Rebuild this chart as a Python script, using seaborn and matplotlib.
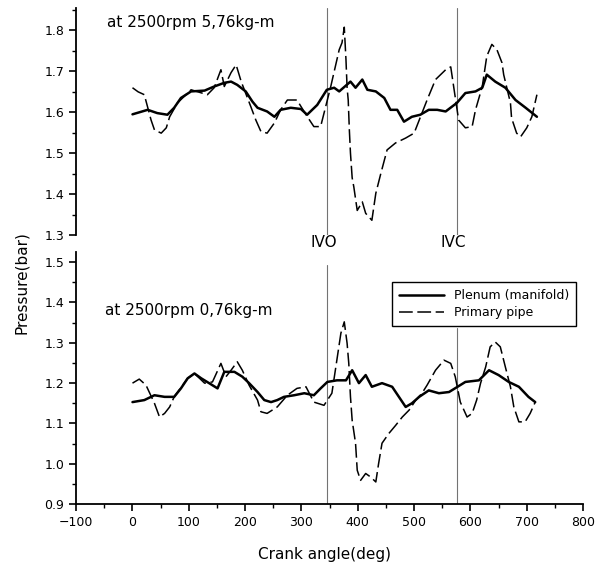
import matplotlib
matplotlib.use("Agg")
import matplotlib.pyplot as plt
import matplotlib.transforms as mtransforms
from matplotlib.ticker import MultipleLocator, FormatStrFormatter
import seaborn as sns

# --- data (crank angle in deg, pressure in bar) ---
# top panel: 2500 rpm, 5.76 kg-m
top_plenum_angle = [0, 27, 44, 62, 74, 86, 104, 128, 145, 163, 175, 186, 201, 213, 222,
                    239, 252, 263, 281, 299, 310, 328, 345, 358, 367, 387, 396, 408, 417,
                    432, 447, 458, 470, 482, 496, 511, 526, 541, 556, 576, 591, 609, 621,
                    629, 644, 662, 680, 698, 718]
top_plenum_p = [1.595, 1.606, 1.598, 1.594, 1.611, 1.635, 1.651, 1.653, 1.663, 1.672, 1.675,
                1.667, 1.651, 1.626, 1.611, 1.602, 1.589, 1.606, 1.611, 1.608, 1.594, 1.618,
                1.655, 1.660, 1.651, 1.675, 1.660, 1.680, 1.655, 1.651, 1.635, 1.606, 1.606,
                1.577, 1.589, 1.594, 1.606, 1.606, 1.602, 1.623, 1.647, 1.651, 1.660, 1.692,
                1.675, 1.660, 1.630, 1.611, 1.589]

top_pipe_angle = [0, 10, 21, 33, 39, 51, 60, 66, 80, 104, 133, 145, 157, 163, 175, 184, 193,
                  210, 219, 228, 239, 252, 263, 275, 292, 310, 322, 334, 343, 352, 367, 372,
                  376, 379, 381, 383, 385, 387, 390, 393, 399, 408, 414, 425, 432, 441, 452,
                  467, 485, 500, 523, 538, 556, 565, 579, 591, 603, 609, 621, 629, 638, 647,
                  656, 659, 671, 673, 682, 689, 700, 709, 718]
top_pipe_p = [1.660, 1.650, 1.643, 1.581, 1.557, 1.549, 1.562, 1.589, 1.623, 1.655, 1.643,
              1.660, 1.704, 1.663, 1.697, 1.716, 1.675, 1.614, 1.581, 1.553, 1.549, 1.574,
              1.606, 1.630, 1.630, 1.590, 1.565, 1.565, 1.614, 1.663, 1.753, 1.770, 1.808,
              1.729, 1.660, 1.630, 1.557, 1.500, 1.440, 1.417, 1.360, 1.381, 1.353, 1.336,
              1.402, 1.451, 1.508, 1.525, 1.537, 1.549, 1.630, 1.680, 1.704, 1.711, 1.581,
              1.562, 1.565, 1.606, 1.663, 1.737, 1.766, 1.753, 1.721, 1.692, 1.623, 1.586,
              1.549, 1.540, 1.562, 1.589, 1.643]

# bottom panel: 2500 rpm, 0.76 kg-m
bot_plenum_angle = [0, 21, 39, 57, 74, 86, 98, 110, 122, 136, 151, 163, 181, 195, 207, 222,
                    234, 246, 257, 269, 287, 305, 322, 334, 346, 363, 379, 390, 402, 414,
                    425, 443, 461, 473, 485, 496, 509, 526, 544, 562, 576, 591, 615, 633,
                    650, 668, 686, 703, 715]
bot_plenum_p = [1.153, 1.158, 1.170, 1.166, 1.166, 1.187, 1.212, 1.224, 1.212, 1.200, 1.187,
                1.228, 1.228, 1.216, 1.200, 1.178, 1.158, 1.153, 1.158, 1.166, 1.170, 1.175,
                1.170, 1.187, 1.203, 1.207, 1.207, 1.232, 1.200, 1.220, 1.191, 1.200, 1.191,
                1.166, 1.141, 1.150, 1.166, 1.182, 1.175, 1.178, 1.190, 1.203, 1.207, 1.232,
                1.220, 1.203, 1.191, 1.166, 1.153]

bot_pipe_angle = [0, 12, 24, 39, 48, 57, 66, 74, 98, 110, 128, 142, 157, 166, 175, 186, 195,
                  207, 222, 228, 239, 257, 275, 292, 308, 322, 340, 354, 361, 370, 376, 381,
                  384, 387, 390, 396, 399, 405, 414, 423, 432, 437, 443, 455, 467, 479, 491,
                  503, 514, 523, 538, 553, 565, 573, 582, 594, 603, 611, 618, 627, 635, 644,
                  653, 662, 671, 677, 686, 697, 706, 715]
bot_pipe_p = [1.200, 1.210, 1.195, 1.150, 1.116, 1.125, 1.141, 1.166, 1.212, 1.224, 1.200,
              1.203, 1.249, 1.216, 1.232, 1.253, 1.232, 1.195, 1.158, 1.129, 1.125, 1.141,
              1.170, 1.187, 1.191, 1.153, 1.145, 1.175, 1.240, 1.324, 1.352, 1.299, 1.249,
              1.166, 1.108, 1.051, 0.984, 0.959, 0.976, 0.967, 0.955, 1.001, 1.051, 1.075,
              1.095, 1.116, 1.133, 1.158, 1.175, 1.195, 1.232, 1.257, 1.249, 1.216, 1.153,
              1.116, 1.125, 1.158, 1.200, 1.240, 1.290, 1.302, 1.290, 1.240, 1.191, 1.141,
              1.104, 1.104, 1.125, 1.153]

valve_angles = [345, 576]
valve_labels = ["IVO", "IVC"]

sns.set_style("ticks")
plt.rcParams["font.family"] = ["DejaVu Sans"]
plt.rcParams.update({"text.color": "black", "axes.labelcolor": "black",
                     "xtick.color": "black", "ytick.color": "black",
                     "axes.edgecolor": "black"})

fig = plt.figure(figsize=(5.95, 5.69), dpi=100)
ax_top = fig.add_axes([0.128, 0.587, 0.852, 0.399])
ax_bot = fig.add_axes([0.128, 0.114, 0.852, 0.443])

pipe_dash = (0, (9, 3))

# top panel
sns.lineplot(x=top_plenum_angle, y=top_plenum_p, ax=ax_top, color="black",
             linewidth=1.8, estimator=None, sort=False)
sns.lineplot(x=top_pipe_angle, y=top_pipe_p, ax=ax_top, color="black",
             linewidth=1.1, linestyle=pipe_dash, estimator=None, sort=False)

# bottom panel
sns.lineplot(x=bot_plenum_angle, y=bot_plenum_p, ax=ax_bot, color="black",
             linewidth=1.8, estimator=None, sort=False, label="Plenum (manifold)")
sns.lineplot(x=bot_pipe_angle, y=bot_pipe_p, ax=ax_bot, color="black",
             linewidth=1.1, linestyle=pipe_dash, estimator=None, sort=False,
             label="Primary pipe")

# axis ranges and ticks
for ax in (ax_top, ax_bot):
    ax.set_xlim(-100, 800)
    ax.xaxis.set_major_locator(MultipleLocator(100))
    ax.xaxis.set_minor_locator(MultipleLocator(50))
    ax.yaxis.set_major_locator(MultipleLocator(0.1))
    ax.yaxis.set_minor_locator(MultipleLocator(0.05))
    ax.yaxis.set_major_formatter(FormatStrFormatter("%.1f"))
    ax.tick_params(which="major", direction="out", length=5, width=1.2, labelsize=9,
                   color="black", labelcolor="black")
    ax.tick_params(which="minor", direction="out", length=3, width=1.0, color="black")
    ax.spines["top"].set_visible(False)
    ax.spines["right"].set_visible(False)
    ax.spines["left"].set_linewidth(1.3)
    ax.set_xlabel("")
    ax.set_ylabel("")

ax_top.set_ylim(1.3, 1.855)
ax_top.spines["bottom"].set_visible(False)
ax_top.tick_params(axis="x", which="both", bottom=False, labelbottom=False)

ax_bot.set_ylim(0.9, 1.525)
ax_bot.spines["bottom"].set_linewidth(1.3)

# valve timing lines
for a in valve_angles:
    ax_top.axvline(a, color="0.45", linewidth=0.8, zorder=0)
ax_bot.axvline(valve_angles[0], ymax=0.95, color="0.45", linewidth=0.8, zorder=0)
ax_bot.axvline(valve_angles[1], ymax=0.70, color="0.45", linewidth=0.8, zorder=0)

trans = mtransforms.blended_transform_factory(ax_top.transData, ax_top.transAxes)
for a, lab in zip(valve_angles, valve_labels):
    ax_top.text(a - 6, -0.035, lab, transform=trans, ha="center", va="center",
                fontsize=11, clip_on=False)

# condition labels
ax_top.text(0.061, 0.934, "at 2500rpm 5,76kg-m", transform=ax_top.transAxes,
            ha="left", va="center", fontsize=11)
ax_bot.text(0.057, 0.77, "at 2500rpm 0,76kg-m", transform=ax_bot.transAxes,
            ha="left", va="center", fontsize=11)

# legend
leg = ax_bot.legend(loc="upper right", bbox_to_anchor=(0.998, 0.905), fontsize=9,
                    frameon=True, fancybox=False, framealpha=1, edgecolor="black",
                    handlelength=3.6, borderpad=0.55, labelspacing=0.3)
leg.get_frame().set_linewidth(1.0)

fig.text(22 / 595, 1 - 283 / 569, "Pressure(bar)", rotation=90, ha="center",
         va="center", fontsize=11)
fig.text(325 / 595, 1 - 555 / 569, "Crank angle(deg)", ha="center", va="center",
         fontsize=11)

fig.savefig("out.png", dpi=100)
